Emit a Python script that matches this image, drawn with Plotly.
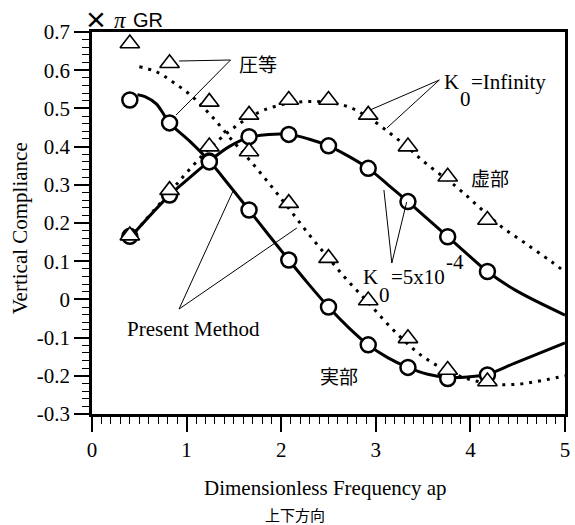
import plotly.graph_objects as go

# ---- data ----
freq_pts = [0.40, 0.82, 1.24, 1.66, 2.08, 2.50, 2.92, 3.34, 3.76, 4.18]
circle_real = [0.522, 0.462, 0.362, 0.234, 0.103, -0.020, -0.119, -0.178, -0.207, -0.198]
circle_imag = [0.165, 0.273, 0.360, 0.426, 0.432, 0.402, 0.343, 0.256, 0.164, 0.073]
tri_real = [0.670, 0.618, 0.517, 0.387, 0.252, 0.108, -0.003, -0.102, -0.185, -0.215]
tri_imag = [0.167, 0.286, 0.400, 0.483, 0.522, 0.522, 0.483, 0.400, 0.321, 0.208]

solid_real_x = [0.48, 0.56, 0.68, 0.82, 1.03, 1.24, 1.45, 1.66, 1.87, 2.08, 2.29, 2.50, 2.71,
                2.92, 3.13, 3.34, 3.55, 3.76, 3.97, 4.18, 4.47, 5.00]
solid_real_y = [0.536, 0.531, 0.512, 0.462, 0.415, 0.362, 0.299, 0.234, 0.168, 0.103, 0.040,
                -0.020, -0.073, -0.119, -0.153, -0.178, -0.196, -0.204, -0.203, -0.196, -0.167, -0.114]

solid_imag_x = [0.45, 0.82, 1.03, 1.24, 1.45, 1.66, 1.87, 2.08, 2.29, 2.50, 2.71, 2.92, 3.13,
                3.34, 3.55, 3.76, 3.97, 4.18, 4.47, 5.00]
solid_imag_y = [0.175, 0.273, 0.318, 0.362, 0.400, 0.424, 0.432, 0.432, 0.420, 0.402, 0.375,
                0.343, 0.300, 0.256, 0.210, 0.164, 0.118, 0.073, 0.025, -0.041]

dotted_real_x = [0.50, 0.68, 0.85, 1.06, 1.27, 1.48, 1.69, 1.90, 2.10, 2.30, 2.50, 2.70, 2.90,
                 3.10, 3.30, 3.50, 3.70, 3.90, 4.10, 4.30, 4.50, 4.70, 5.00]
dotted_real_y = [0.609, 0.596, 0.570, 0.531, 0.478, 0.417, 0.358, 0.295, 0.232, 0.168, 0.108,
                 0.050, -0.003, -0.058, -0.108, -0.150, -0.180, -0.202, -0.216, -0.223, -0.222,
                 -0.215, -0.200]

dotted_imag_x = [0.45, 0.82, 1.03, 1.24, 1.45, 1.62, 1.82, 2.07, 2.28, 2.49, 2.70, 2.90, 3.15,
                 3.35, 3.53, 3.85, 4.10, 4.33, 4.58, 4.85, 5.00]
dotted_imag_y = [0.175, 0.280, 0.340, 0.395, 0.440, 0.470, 0.496, 0.513, 0.518, 0.516, 0.505,
                 0.480, 0.435, 0.395, 0.356, 0.295, 0.240, 0.190, 0.147, 0.100, 0.072]

x_ticks = [0, 1, 2, 3, 4, 5]
x_ticktext = ["0", "1", "2", "3", "4", "5"]
y_ticks = [-0.3, -0.2, -0.1, 0, 0.1, 0.2, 0.3, 0.4, 0.5, 0.6, 0.7]
y_ticktext = ["-0.3", "-0.2", "-0.1", "0", "0.1", "0.2", "0.3", "0.4", "0.5", "0.6", "0.7"]

# ---- layout geometry ----
W, H = 575, 525
ML, MR, MT, MB = 92, 5, 32, 111
PW, PH = W - ML - MR, H - MT - MB

SERIF = "Liberation Serif, Times New Roman, serif"
SANS = "Liberation Sans, Arial, sans-serif"
CJK = "Noto Sans CJK JP"


def px(xp):
    return (xp - ML) / PW


def py(yp):
    return (H - MB - yp) / PH


fig = go.Figure()

dot_line = dict(color="black", width=3, dash="3px,6px")
solid_line = dict(color="black", width=3)

fig.add_trace(go.Scatter(x=dotted_real_x, y=dotted_real_y, mode="lines",
                         line=dict(**dot_line, shape="spline"), showlegend=False))
fig.add_trace(go.Scatter(x=dotted_imag_x, y=dotted_imag_y, mode="lines",
                         line=dict(**dot_line, shape="spline"), showlegend=False))
fig.add_trace(go.Scatter(x=solid_real_x, y=solid_real_y, mode="lines",
                         line=dict(**solid_line, shape="spline"), showlegend=False))
fig.add_trace(go.Scatter(x=solid_imag_x, y=solid_imag_y, mode="lines",
                         line=dict(**solid_line, shape="spline"), showlegend=False))

tri_marker = dict(symbol="triangle-up", size=17, color="white",
                  line=dict(color="black", width=1.6))
circ_marker = dict(symbol="circle", size=15, color="white",
                   line=dict(color="black", width=2.5))

fig.add_trace(go.Scatter(x=freq_pts, y=circle_real, mode="markers", marker=circ_marker,
                         showlegend=False))
fig.add_trace(go.Scatter(x=freq_pts, y=circle_imag, mode="markers", marker=circ_marker,
                         showlegend=False))
fig.add_trace(go.Scatter(x=freq_pts, y=tri_real, mode="markers", marker=tri_marker,
                         showlegend=False))
fig.add_trace(go.Scatter(x=freq_pts, y=tri_imag, mode="markers", marker=tri_marker,
                         showlegend=False))

axis_common = dict(showgrid=False, zeroline=False, showline=True, linecolor="black",
                   linewidth=2.5, mirror=True, ticks="outside", tickcolor="black",
                   tickwidth=2, ticklen=15,
                   tickfont=dict(family=SERIF, size=21, color="black"))

fig.update_xaxes(range=[0, 5], tickvals=x_ticks, ticktext=x_ticktext,
                 minor=dict(dtick=0.1, ticks="outside", ticklen=7, tickwidth=1.3,
                            tickcolor="black"),
                 **axis_common)
fig.update_yaxes(range=[-0.3, 0.7], tickvals=y_ticks, ticktext=y_ticktext,
                 minor=dict(dtick=0.02, ticks="outside", ticklen=7, tickwidth=1.3,
                            tickcolor="black"),
                 **axis_common)

annotations = []


def txt(text, xp, yp, size, family, xanchor="center", yanchor="middle", angle=0):
    annotations.append(dict(text=text, x=px(xp), y=py(yp), xref="paper", yref="paper",
                            xanchor=xanchor, yanchor=yanchor, showarrow=False,
                            textangle=angle,
                            font=dict(family=family, size=size, color="black")))


# axis titles
txt("Vertical Compliance", 19, 228.5, 21, SERIF, angle=-90)
txt("Dimensionless Frequency ap", 327.5, 488, 21, SERIF)
txt("上下方向", 297, 514, 15, CJK)

# unit label
txt("×", 84, 19, 34, SANS, xanchor="left")
txt("<i>π</i>", 112, 21, 23, SERIF, xanchor="left")
txt("GR", 131, 20, 20, SANS, xanchor="left")

# labels in the plot
txt("圧等", 260, 63, 19, CJK)
txt("K", 446, 82, 21, SERIF, xanchor="left")
txt("0", 462, 99, 21, SERIF, xanchor="left")
txt("=Infinity", 473, 82, 21, SERIF, xanchor="left")
txt("虚部", 494, 177, 19, CJK)
txt("K", 364, 277, 21, SERIF, xanchor="left")
txt("0", 380, 295, 21, SERIF, xanchor="left")
txt("=5x10", 392, 277, 21, SERIF, xanchor="left")
txt("-4", 448, 262, 21, SERIF, xanchor="left")
txt("Present Method", 194.5, 329, 21, SERIF)
txt("実部", 342, 375, 19, CJK)

shapes = []


def seg(x0, y0, x1, y1):
    shapes.append(dict(type="line", xref="paper", yref="paper",
                       x0=px(x0), y0=py(y0), x1=px(x1), y1=py(y1),
                       line=dict(color="black", width=1)))


seg(232, 60, 180, 61)
seg(232, 60, 177, 115)
seg(443, 80, 373, 110)
seg(443, 80, 390, 128)
seg(395, 263, 387, 190)
seg(395, 263, 410, 202)
seg(180, 309, 235, 190)
seg(180, 309, 299, 228)

fig.update_layout(width=W, height=H, margin=dict(l=ML, r=MR, t=MT, b=MB),
                  paper_bgcolor="white", plot_bgcolor="white",
                  annotations=annotations, shapes=shapes)

fig.write_html("out.html")
